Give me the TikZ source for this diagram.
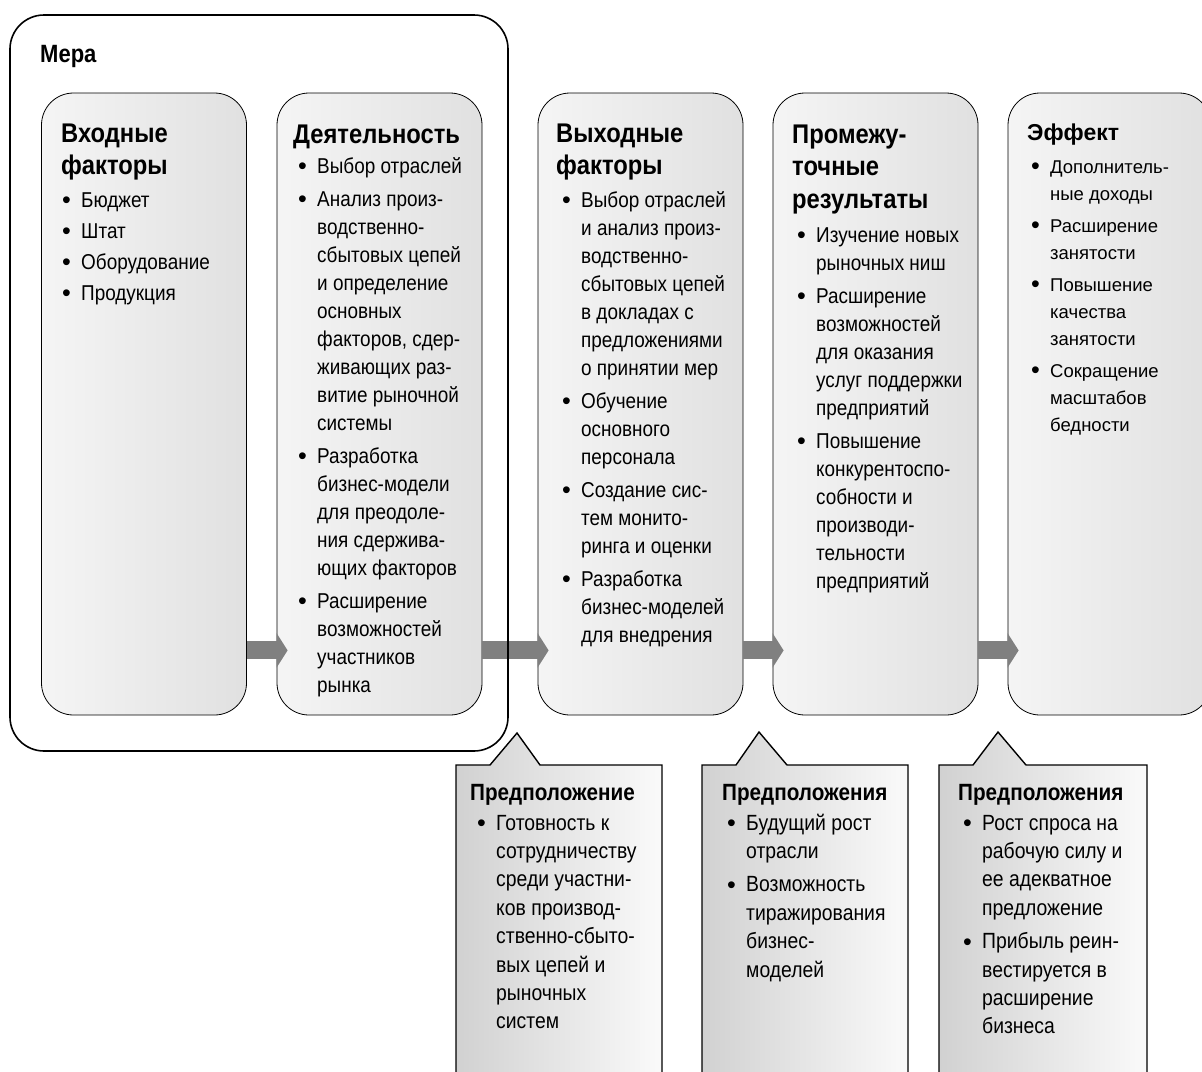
\documentclass[tikz,border=0pt]{standalone}
\usepackage{fontspec}
\setmainfont{Liberation Sans}[FakeStretch=0.88]
\newfontfamily\widefont{Liberation Sans}
\usetikzlibrary{arrows.meta}

\newcommand\merafont{\fontsize{25}{30}\selectfont\bfseries}
\newcommand\hdfont{\fontsize{27}{32.5}\selectfont\bfseries}
\newcommand\txfont{\fontsize{21.5}{28}\selectfont}
\newcommand\wdhdfont{\widefont\fontsize{23}{28}\selectfont\bfseries}
\newcommand\wdfont{\widefont\fontsize{18.5}{27}\selectfont}
\newcommand\nthdfont{\fontsize{23.5}{28}\selectfont\bfseries}
\newcommand\ntfont{\fontsize{22}{28.4}\selectfont}

\newcommand\hd[2][\hdfont]{{#1\begin{tabular}[t]{@{}l@{}}#2\end{tabular}}}
\newcommand\lst[2][\txfont]{{#1\begin{tabular}[t]{@{}l@{}l@{}}#2\end{tabular}}}
\newcommand\bul{\makebox[19pt][l]{\raisebox{-1.5pt}{\widefont\fontsize{25}{25}\selectfont\textbullet}}}

\tikzset{
    col/.style={draw, line width=0.8pt, rounded corners=32pt,
        left color=black!4, right color=black!12,
        minimum width=205pt, minimum height=622pt, inner sep=0pt},
    frame/.style={draw, line width=1.6pt, rounded corners=34pt,
        minimum width=498pt, minimum height=736pt, inner sep=0pt},
    flow/.style={line width=18pt, draw=black!50,
        -{Triangle[length=11pt, width=34pt]}},
    note/.style={draw, line width=1.4pt, line join=miter},
    txt/.style={anchor=base west, inner sep=0pt},
}

\begin{document}
\begin{tikzpicture}[x=1pt, y=-1pt]
    \useasboundingbox (0,0) rectangle (1202,1071);
    \clip (0,0) rectangle (1202,1071);

    % columns
    \node[col] (c1) at (144,404) {};
    \node[col] (c2) at (379.5,404) {};
    \node[col] (c3) at (640.5,404) {};
    \node[col] (c4) at (875.5,404) {};
    \node[col, minimum width=203pt] (c5) at (1109.5,404) {};

    \draw[flow] ([yshift=65pt]c1.south east) -- ([xshift=11pt, yshift=65pt]c2.south west);
    \draw[flow] ([yshift=65pt]c2.south east) -- ([xshift=11pt, yshift=65pt]c3.south west);
    \draw[flow] ([yshift=65pt]c3.south east) -- ([xshift=11pt, yshift=65pt]c4.south west);
    \draw[flow] ([yshift=65pt]c4.south east) -- ([xshift=11pt, yshift=65pt]c5.south west);

    \node[frame] (mera) at (259,383) {};
    \node[txt, font=\merafont] (meralbl) at (40,62) {Мера};

    \node[txt] (h1) at (61,142) {\hd{Входные\\факторы}};
    \node[txt] (l1) at (62,207) {\lst{\bul & Бюджет\\[3pt]
        \bul & Штат\\[3pt]
        \bul & Оборудование\\[3pt]
        \bul & Продукция}};

    \node[txt] (h2) at (293,143) {\hd{Деятельность}};
    \node[txt] (l2) at (298,173) {\lst{\bul & Выбор отраслей\\[5pt]
        \bul & Анализ произ-\\ & водственно-\\ & сбытовых цепей\\
        & и определение\\ & основных\\ & факторов, сдер-\\
        & живающих раз-\\ & витие рыночной\\ & системы\\[5pt]
        \bul & Разработка\\ & бизнес-модели\\ & для преодоле-\\
        & ния сдержива-\\ & ющих факторов\\[5pt]
        \bul & Расширение\\ & возможностей\\ & участников\\ & рынка}};

    \node[txt] (h3) at (556,142) {\hd{Выходные\\факторы}};
    \node[txt] (l3) at (562,207) {\lst{\bul & Выбор отраслей\\ & и анализ произ-\\
        & водственно-\\ & сбытовых цепей\\ & в докладах с\\
        & предложениями\\ & о принятии мер\\[5pt]
        \bul & Обучение\\ & основного\\ & персонала\\[5pt]
        \bul & Создание сис-\\ & тем монито-\\ & ринга и оценки\\[5pt]
        \bul & Разработка\\ & бизнес-моделей\\ & для внедрения}};

    \node[txt] (h4) at (792,143) {\hd{Промежу-\\точные\\результаты}};
    \node[txt] (l4) at (797,242) {\lst{\bul & Изучение новых\\ & рыночных ниш\\[5pt]
        \bul & Расширение\\ & возможностей\\ & для оказания\\
        & услуг поддержки\\ & предприятий\\[5pt]
        \bul & Повышение\\ & конкурентоспо-\\ & собности и\\
        & производи-\\ & тельности\\ & предприятий}};

    \node[txt] (h5) at (1027,140) {\hd[\wdhdfont]{Эффект}};
    \node[txt] (l5) at (1031,173) {\lst[\wdfont]{\bul & Дополнитель-\\ & ные доходы\\[5pt]
        \bul & Расширение\\ & занятости\\[5pt]
        \bul & Повышение\\ & качества\\ & занятости\\[5pt]
        \bul & Сокращение\\ & масштабов\\ & бедности}};

    % assumption callouts
    \shade[left color=black!18, right color=black!2] (456,1080) -- (456,765) -- (490,765)
        -- (517,733) -- (540,765) -- (662,765) -- (662,1080) -- cycle;
    \draw[note] (456,1080) -- (456,765) -- (490,765) -- (517,733) -- (540,765)
        -- (662,765) -- (662,1080);
    \shade[left color=black!18, right color=black!2] (702,1080) -- (702,765) -- (736,765)
        -- (759,732) -- (787,765) -- (908,765) -- (908,1080) -- cycle;
    \draw[note] (702,1080) -- (702,765) -- (736,765) -- (759,732) -- (787,765)
        -- (908,765) -- (908,1080);
    \shade[left color=black!18, right color=black!2] (939,1080) -- (939,765) -- (973,765)
        -- (998,732) -- (1026,765) -- (1147,765) -- (1147,1080) -- cycle;
    \draw[note] (939,1080) -- (939,765) -- (973,765) -- (998,732) -- (1026,765)
        -- (1147,765) -- (1147,1080);

    \node[txt] (a1) at (470,800) {\hd[\nthdfont]{Предположение}};
    \node[txt] (b1) at (477,830) {\lst[\ntfont]{\bul & Готовность к\\ & сотрудничеству\\
        & среди участни-\\ & ков производ-\\ & ственно-сбыто-\\
        & вых цепей и\\ & рыночных\\ & систем}};

    \node[txt] (a2) at (722,800) {\hd[\nthdfont]{Предположения}};
    \node[txt] (b2) at (727,830) {\lst[\ntfont]{\bul & Будущий рост\\ & отрасли\\[5pt]
        \bul & Возможность\\ & тиражирования\\ & бизнес-\\ & моделей}};

    \node[txt] (a3) at (958,800) {\hd[\nthdfont]{Предположения}};
    \node[txt] (b3) at (963,830) {\lst[\ntfont]{\bul & Рост спроса на\\ & рабочую силу и\\
        & ее адекватное\\ & предложение\\[5pt]
        \bul & Прибыль реин-\\ & вестируется в\\ & расширение\\ & бизнеса}};
\end{tikzpicture}
\end{document}
